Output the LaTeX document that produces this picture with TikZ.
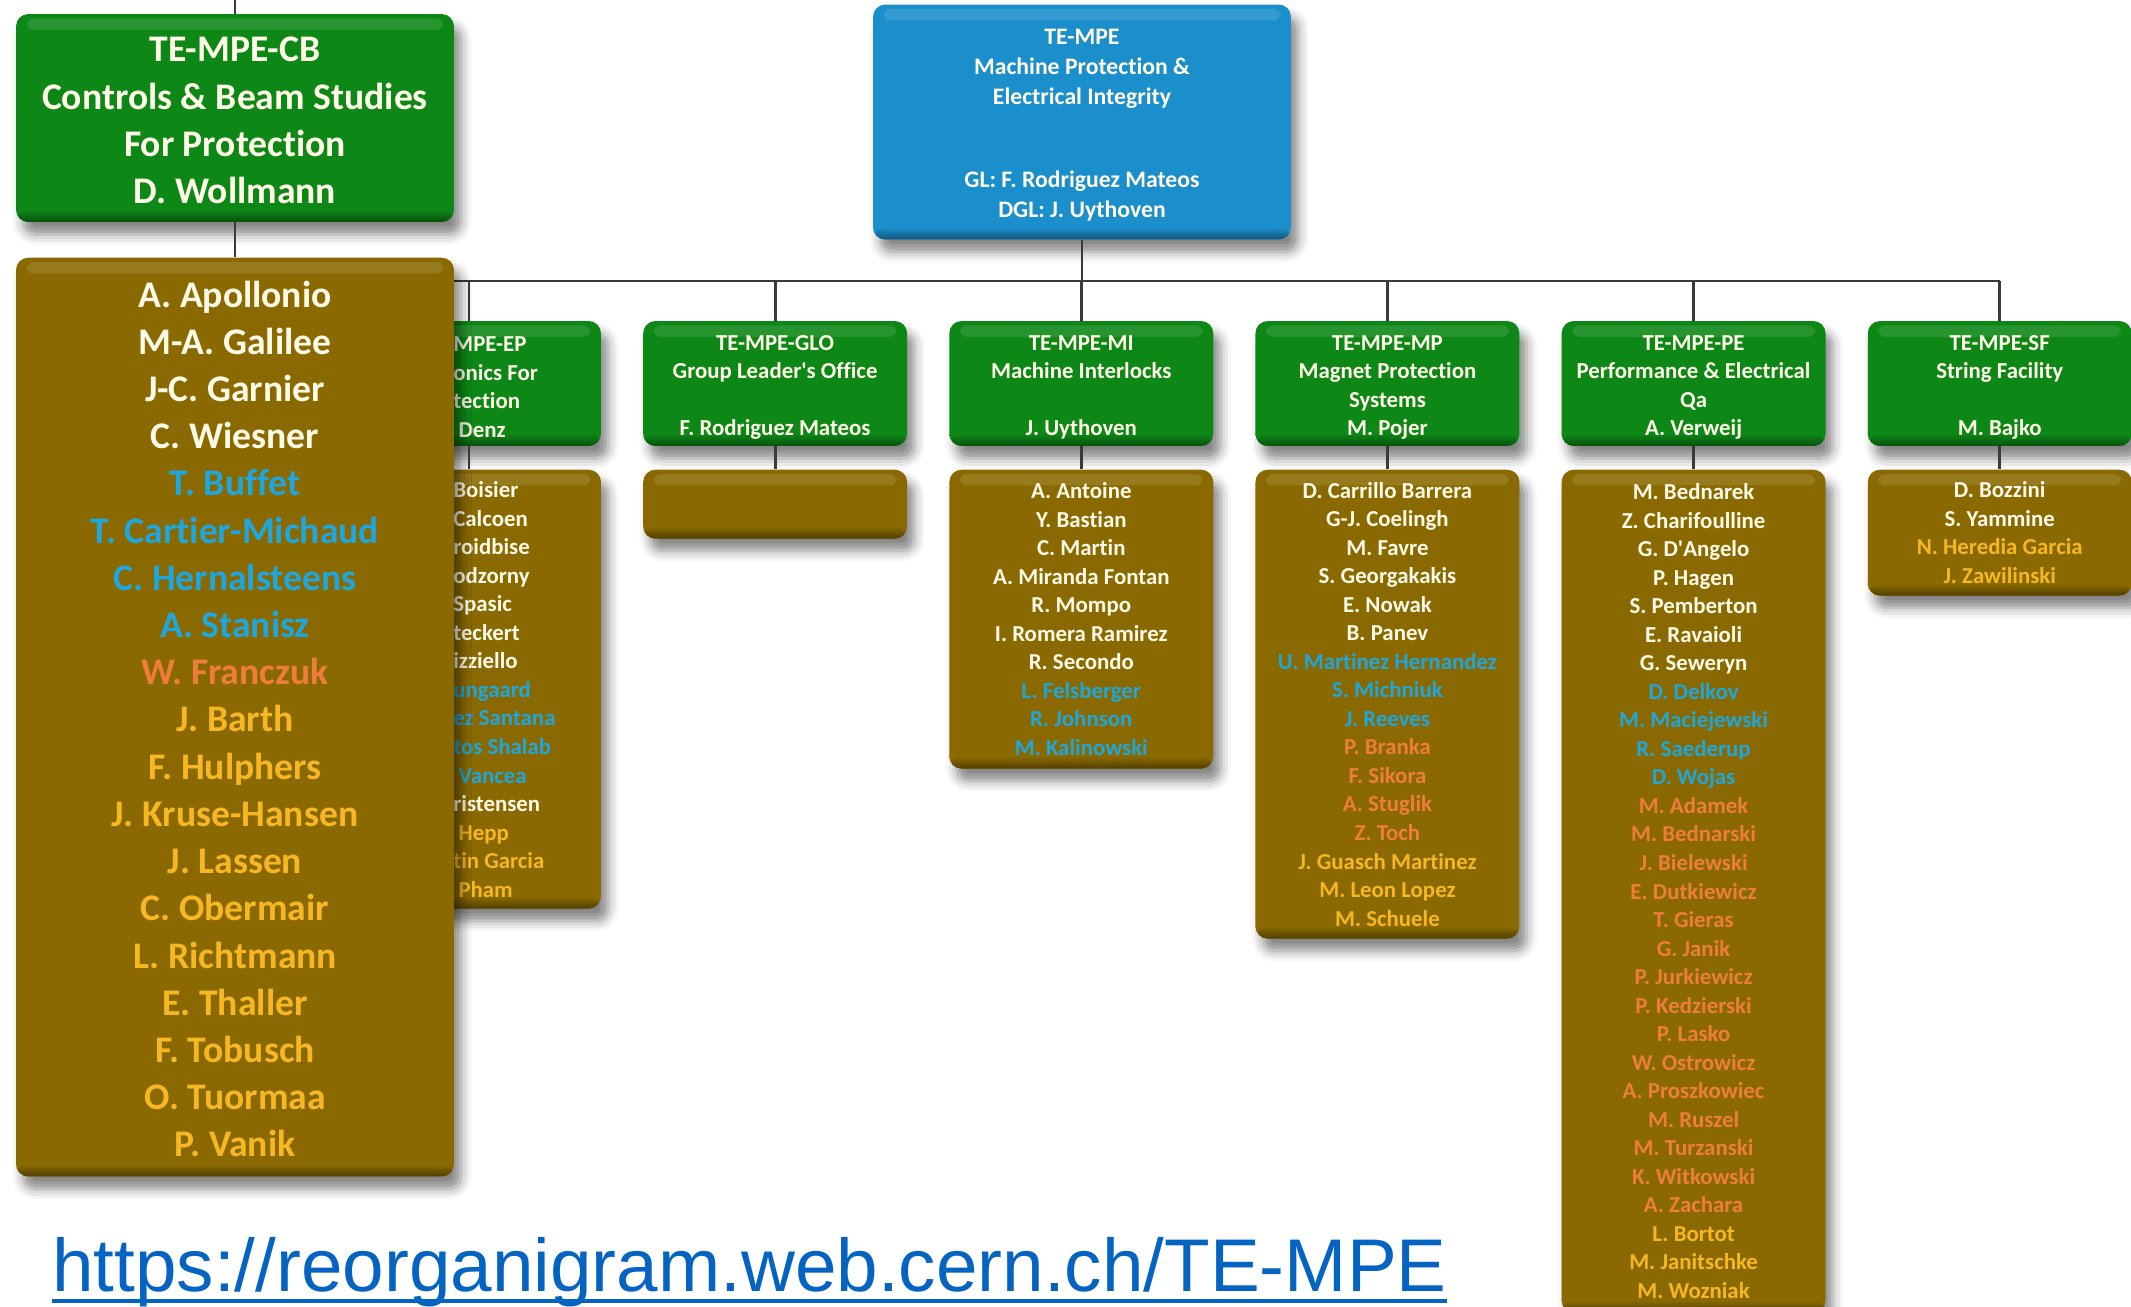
\documentclass[tikz,border=0pt]{standalone}
\usepackage{fontspec}
\setmainfont{Carlito}[Ligatures=NoCommon]
\newfontfamily\linkfont{Liberation Sans}
\usetikzlibrary{positioning,shadows.blur}
\definecolor{grpgreen}{HTML}{0D8716}
\definecolor{grpblue}{HTML}{1B8FCC}
\definecolor{staffbrown}{HTML}{8A6A00}
\definecolor{namewhite}{HTML}{FFFBE8}
\definecolor{fellowblue}{HTML}{1EA6DE}
\definecolor{techorange}{HTML}{EE7D3C}
\definecolor{studyellow}{HTML}{F6B723}
\definecolor{linkblue}{HTML}{0563C1}
\definecolor{wire}{HTML}{3A3A3A}
\newcommand{\unitfont}{\fontsize{13}{16.24}\selectfont\bfseries}
\newcommand{\sectfont}{\fontsize{21.4}{26.87}\selectfont\bfseries}
\newcommand{\groupfont}{\fontsize{13.5}{17}\selectfont\bfseries}
\newcommand{\liftto}[1]{\rule{0pt}{#1}}
\newcommand{\fb}[1]{\textcolor{fellowblue}{#1}}
\newcommand{\tor}[1]{\textcolor{techorange}{#1}}
\newcommand{\sy}[1]{\textcolor{studyellow}{#1}}

\begin{document}
\begin{tikzpicture}[x=0.02cm, y=-0.02cm,
  wire/.style={draw=wire, line width=1.6pt},
  glossbox/.style={rectangle, rounded corners=7pt, fill=#1, text=namewhite,
    align=center, inner sep=0pt,
    blur shadow={shadow xshift=4pt, shadow yshift=-7pt, shadow blur radius=6pt, shadow opacity=48},
    path picture={
      \fill[white, opacity=.11, rounded corners=4pt]
        ([xshift=6pt,yshift=-2.5pt]path picture bounding box.north west) rectangle
        ([xshift=-6pt,yshift=-9pt]path picture bounding box.north east);
      \shade[top color=#1, bottom color=#1!60!black]
        ([yshift=7pt]path picture bounding box.south west) rectangle
        (path picture bounding box.south east);
    }},
  unithead/.style={glossbox=grpgreen, minimum width=5.28cm, minimum height=2.5cm, font=\unitfont},
  unitlist/.style={glossbox=staffbrown, minimum width=5.28cm, font=\unitfont},
  unittext/.style={text=namewhite, font=\unitfont, inner sep=0pt, align=left}]
  \useasboundingbox (0,0) rectangle (2131,1307);

  % Sections
  \node[unithead] (ephead) at (469,383.5) {};
  \node[unitlist, minimum height=8.78cm, below=0.46cm of ephead] (eplist) {};
  \node[unittext, anchor=west] (eptitle) at (453,387) {MPE-EP\\onics For\\tection\\~Denz};
  \node[unittext, anchor=west] (epnames) at (453,689.5)
    {Boisier\\Calcoen\\roidbise\\odzorny\\Spasic\\teckert\\izziello\\\fb{ungaard}\\\fb{ez Santana}\\\fb{tos Shalab}\\\fb{~Vancea}\\ristensen\\\sy{~Hepp}\\\sy{tin Garcia}\\\sy{~Pham}};

  \node[unithead, right=0.83cm of ephead] (glohead)
    {\liftto{13pt}TE-MPE-GLO\\Group Leader\textquotesingle s Office\\\mbox{}\\F. Rodriguez Mateos};
  \node[unitlist, minimum height=1.38cm, below=0.46cm of glohead] (glolist) {};

  \node[unithead, right=0.83cm of glohead] (mihead)
    {\liftto{13pt}TE-MPE-MI\\Machine Interlocks\\\mbox{}\\J. Uythoven};
  \node[unitlist, minimum height=5.98cm, below=0.46cm of mihead] (milist)
    {A. Antoine\\Y. Bastian\\C. Martin\\A. Miranda Fontan\\R. Mompo\\I. Romera Ramirez\\R. Secondo\\\fb{L. Felsberger}\\\fb{R. Johnson}\\\fb{M. Kalinowski}};

  \node[unithead, right=0.83cm of mihead] (mphead)
    {\liftto{13pt}TE-MPE-MP\\Magnet Protection\\Systems\\M. Pojer};
  \node[unitlist, minimum height=9.38cm, below=0.46cm of mphead] (mplist)
    {D. Carrillo Barrera\\G-J. Coelingh\\M. Favre\\S. Georgakakis\\E. Nowak\\B. Panev\\\fb{U. Martinez Hernandez}\\\fb{S. Michniuk}\\\fb{J. Reeves}\\\tor{P. Branka}\\\tor{F. Sikora}\\\tor{A. Stuglik}\\\tor{Z. Toch}\\\sy{J. Guasch Martinez}\\\sy{M. Leon Lopez}\\\sy{M. Schuele}};

  \node[unithead, right=0.83cm of mphead] (pehead)
    {\liftto{13pt}TE-MPE-PE\\Performance \& Electrical\\Qa\\A. Verweij};
  \node[unitlist, minimum height=16.86cm, below=0.46cm of pehead] (pelist)
    {M. Bednarek\\Z. Charifoulline\\G. D\textquotesingle Angelo\\P. Hagen\\S. Pemberton\\E. Ravaioli\\G. Seweryn\\\fb{D. Delkov}\\\fb{M. Maciejewski}\\\fb{R. Saederup}\\\fb{D. Wojas}\\\tor{M. Adamek}\\\tor{M. Bednarski}\\\tor{J. Bielewski}\\\tor{E. Dutkiewicz}\\\tor{T. Gieras}\\\tor{G. Janik}\\\tor{P. Jurkiewicz}\\\tor{P. Kedzierski}\\\tor{P. Lasko}\\\tor{W. Ostrowicz}\\\tor{A. Proszkowiec}\\\tor{M. Ruszel}\\\tor{M. Turzanski}\\\tor{K. Witkowski}\\\tor{A. Zachara}\\\sy{L. Bortot}\\\sy{M. Janitschke}\\\sy{M. Wozniak}};

  \node[unithead, right=0.83cm of pehead] (sfhead)
    {\liftto{13pt}TE-MPE-SF\\String Facility\\\mbox{}\\M. Bajko};
  \node[unitlist, minimum height=2.52cm, below=0.46cm of sfhead] (sflist)
    {D. Bozzini\\S. Yammine\\\sy{N. Heredia Garcia}\\\sy{J. Zawilinski}};

  % Group box
  \node[glossbox=grpblue, minimum width=8.36cm, minimum height=4.7cm, font=\groupfont] (mpe) at (1082,122)
    {\liftto{12.5pt}TE-MPE\\Machine Protection \&\\Electrical Integrity\\[30.6pt]GL: F. Rodriguez Mateos\\DGL: J. Uythoven};

  % Connectors
  \coordinate (busw) at (300,281);
  \draw[wire] (mpe.south) -- (mpe.south |- busw);
  \draw[wire] (busw) -- (sfhead.north |- busw);
  \foreach \u in {ep,glo,mi,mp,pe,sf} {
    \draw[wire] (\u head.north |- busw) -- (\u head.north);
    \draw[wire] (\u head.south) -- (\u list.north);
  }

  % CB section on top
  \coordinate (cbtop) at (235,0);
  \node[glossbox=grpgreen, minimum width=8.76cm, minimum height=4.16cm, font=\sectfont] (cbhead) at (235,118)
    {\liftto{16.8pt}TE-MPE-CB\\Controls \& Beam Studies\\For Protection\\D. Wollmann};
  \node[glossbox=staffbrown, minimum width=8.76cm, minimum height=18.38cm, font=\sectfont, below=0.7cm of cbhead] (cblist)
    {\liftto{17.1pt}A. Apollonio\\M-A. Galilee\\J-C. Garnier\\C. Wiesner\\\fb{T. Buffet}\\\fb{T. Cartier-Michaud}\\\fb{C. Hernalsteens}\\\fb{A. Stanisz}\\\tor{W. Franczuk}\\\sy{J. Barth}\\\sy{F. Hulphers}\\\sy{J. Kruse-Hansen}\\\sy{J. Lassen}\\\sy{C. Obermair}\\\sy{L. Richtmann}\\\sy{E. Thaller}\\\sy{F. Tobusch}\\\sy{O. Tuormaa}\\\sy{P. Vanik}};
  \draw[wire] (cbtop) -- (cbhead.north);
  \draw[wire] (cbhead.south) -- (cblist.north);

  % Link
  \node[font=\linkfont\fontsize{42.5}{48}\selectfont, text=linkblue, anchor=base west, inner sep=0pt] (link) at (52,1291)
    {https://reorganigram.web.cern.ch/TE-MPE};
  \draw[linkblue, line width=2.3pt] ([yshift=-5.5pt]link.base west) -- ([yshift=-5.5pt]link.base east);
\end{tikzpicture}
\end{document}
